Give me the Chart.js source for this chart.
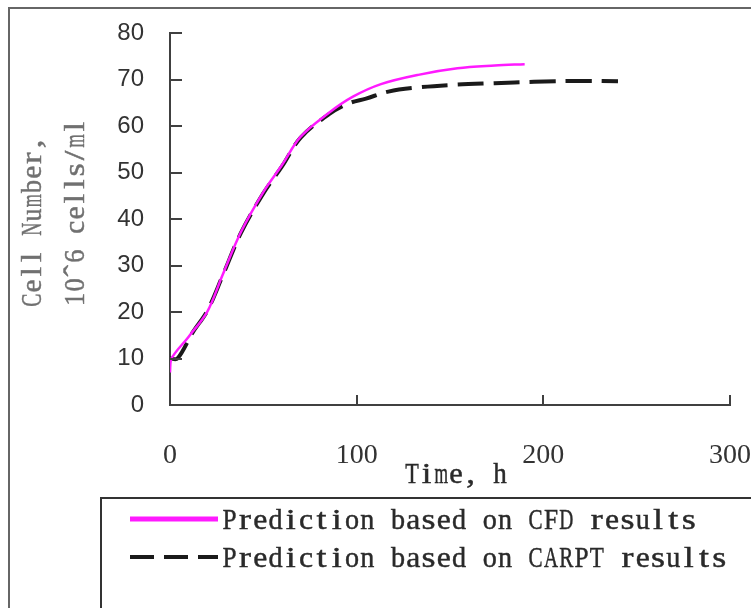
<!DOCTYPE html>
<html>
<head>
<meta charset="utf-8">
<script src="https://cdn.jsdelivr.net/npm/chart.js@4/dist/chart.umd.min.js"></script>
<style>
  html, body { margin: 0; padding: 0; background: #fff; }
  #cellChart { display: block; }
</style>
</head>
<body>
<canvas id="cellChart" width="751" height="608"></canvas>
<script>
// values
const cfdTime = [0, 0.5, 10, 20, 28, 38, 50, 60, 70, 85, 98, 113, 133, 154, 174, 190];
const cfdCells = [7, 9.8, 14.7, 20.1, 27.8, 37.2, 45.8, 51.6, 57.7, 62.8, 66.3, 69.0, 71.0, 72.4, 73.0, 73.3];

const carptTime = [0, 4, 12, 20, 28, 38, 50, 60, 70, 85, 96, 105, 117, 133, 154, 174, 195, 222, 240];
const carptCells = [10, 10, 15.5, 20.3, 27.6, 37.0, 45.5, 51.3, 57.5, 62.5, 64.9, 65.9, 67.4, 68.3, 68.9, 69.2, 69.5, 69.7, 69.6];

const xTicks = [0, 100, 200, 300];
const yTicks = [0, 10, 20, 30, 40, 50, 60, 70, 80];

const seriesLabels = ['Prediction based on CFD results', 'Prediction based on CARPT results'];
const xTitle = 'Time, h';
const yTitle = ['Cell Number,', '10\u02c66 cells/ml'];

const toPoints = (xs, ys) => xs.map((x, i) => ({ x: x, y: ys[i] }));

const axisColor = '#404040';
const serifFont = '"Liberation Serif", "DejaVu Serif", serif';

// fixed-pitch serif text, like the half-width latin of the original font
const pitchText = (ctx, text, x, y, size, pitch, align, angle) => {
  ctx.save();
  ctx.translate(x, y);
  if (angle) ctx.rotate(angle);
  ctx.font = size + 'px ' + serifFont;
  ctx.textAlign = 'center';
  ctx.textBaseline = 'alphabetic';
  ctx.strokeStyle = ctx.fillStyle;
  ctx.lineWidth = 0.45;
  const start = align === 'center' ? -pitch * text.length / 2 : 0;
  [...text].forEach((ch, i) => {
    const w = ctx.measureText(ch).width;
    const sx = w > 0 ? Math.min(1.2, pitch * 0.92 / w) : 1;
    ctx.save();
    ctx.translate(start + pitch * (i + 0.5), 0);
    ctx.scale(sx, 1);
    ctx.fillText(ch, 0, 0);
    ctx.strokeText(ch, 0, 0);
    ctx.restore();
  });
  ctx.restore();
};

const decor = {
  id: 'decor',
  beforeDraw(chart) {
    const ctx = chart.ctx;
    ctx.save();
    ctx.fillStyle = '#fff';
    ctx.fillRect(0, 0, chart.width, chart.height);
    // outer frame (right and bottom run off the picture)
    ctx.strokeStyle = '#666';
    ctx.lineWidth = 2;
    ctx.beginPath();
    ctx.moveTo(9, chart.height);
    ctx.lineTo(9, 8);
    ctx.lineTo(chart.width, 8);
    ctx.stroke();
    ctx.restore();
  },
  afterDraw(chart) {
    const ctx = chart.ctx;
    const xs = chart.scales.x;
    const ys = chart.scales.y;
    const area = chart.chartArea;
    ctx.save();

    // tick marks pointing into the plot
    ctx.strokeStyle = axisColor;
    ctx.lineWidth = 2;
    ctx.beginPath();
    yTicks.forEach(v => {
      const py = Math.round(ys.getPixelForValue(v));
      ctx.moveTo(area.left, py);
      ctx.lineTo(area.left + 12, py);
    });
    xTicks.forEach(v => {
      if (v === 0) return;
      const px = Math.round(xs.getPixelForValue(v));
      ctx.moveTo(px, area.bottom);
      ctx.lineTo(px, area.bottom - 10);
    });
    ctx.stroke();

    // axis titles
    ctx.fillStyle = '#2a2a2a';
    pitchText(ctx, xTitle, 456, 483, 29, 14.7, 'center', 0);

    ctx.fillStyle = '#707070';
    pitchText(ctx, yTitle[0], 41, 222, 29, 14.2, 'center', -Math.PI / 2);
    pitchText(ctx, yTitle[1], 84, 213, 29, 14.4, 'center', -Math.PI / 2);

    // legend box
    ctx.strokeStyle = '#333';
    ctx.lineWidth = 2;
    ctx.beginPath();
    ctx.moveTo(101, chart.height);
    ctx.lineTo(101, 498);
    ctx.lineTo(chart.width, 498);
    ctx.stroke();

    const rows = [519, 557];
    chart.data.datasets.forEach((ds, i) => {
      ctx.save();
      ctx.strokeStyle = ds.borderColor;
      ctx.lineWidth = i === 0 ? 5 : 4;
      ctx.setLineDash(i === 0 ? [] : [24, 10]);
      ctx.beginPath();
      ctx.moveTo(130, rows[i]);
      ctx.lineTo(218, rows[i]);
      ctx.stroke();
      ctx.restore();
      ctx.fillStyle = '#2a2a2a';
      pitchText(ctx, ds.label, 222, rows[i] + 10, 30, 15.3, 'left', 0);
    });

    ctx.restore();
  }
};

const ctx = document.getElementById('cellChart').getContext('2d');
new Chart(ctx, {
  type: 'line',
  data: {
    datasets: [
      {
        label: seriesLabels[0],
        data: toPoints(cfdTime, cfdCells),
        borderColor: '#ff1aff',
        borderWidth: 2.5,
        pointRadius: 0,
        tension: 0.35,
        fill: false
      },
      {
        label: seriesLabels[1],
        data: toPoints(carptTime, carptCells),
        borderColor: '#1a1a1a',
        borderWidth: 4,
        borderDash: [26, 10],
        pointRadius: 0,
        tension: 0.35,
        fill: false
      }
    ]
  },
  options: {
    responsive: false,
    animation: false,
    events: [],
    layout: { padding: { left: 0, top: 33, right: 21, bottom: 0 } },
    plugins: {
      legend: { display: false },
      tooltip: { enabled: false }
    },
    scales: {
      x: {
        type: 'linear',
        min: 0,
        max: 300,
        afterBuildTicks: scale => { scale.ticks = xTicks.map(v => ({ value: v })); },
        afterFit: scale => {
          scale.height = 203;
          scale.paddingLeft = 0;
          scale.paddingRight = 0;
        },
        grid: { drawOnChartArea: false, drawTicks: false },
        border: { display: true, color: axisColor, width: 2 },
        ticks: {
          padding: 34,
          color: '#333',
          maxRotation: 0,
          font: { family: serifFont, size: 28 }
        }
      },
      y: {
        type: 'linear',
        min: 0,
        max: 80,
        afterBuildTicks: scale => { scale.ticks = yTicks.map(v => ({ value: v })); },
        afterFit: scale => {
          scale.width = 170;
          scale.paddingTop = 0;
          scale.paddingBottom = 0;
        },
        grid: { drawOnChartArea: false, drawTicks: false },
        border: { display: true, color: axisColor, width: 2 },
        ticks: {
          padding: 26,
          color: '#333',
          font: { family: '"Liberation Sans", Arial, sans-serif', size: 24 }
        }
      }
    }
  },
  plugins: [decor]
});
</script>
</body>
</html>
